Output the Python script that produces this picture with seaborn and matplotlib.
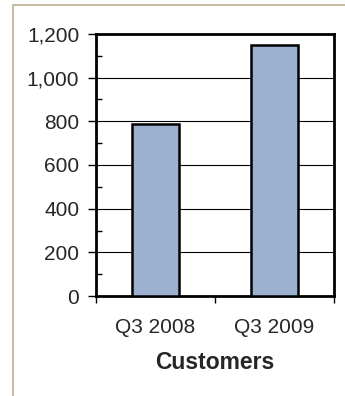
import matplotlib
matplotlib.use("Agg")
import matplotlib.pyplot as plt
from matplotlib.patches import Rectangle
from matplotlib.ticker import MultipleLocator, FuncFormatter
import seaborn as sns
import pandas as pd

periods = ["Q3 2008", "Q3 2009"]
customers = [790, 1150]
y_ticks = [0, 200, 400, 600, 800, 1000, 1200]

sns.set_style("white")
plt.rcParams["font.family"] = ["Liberation Sans", "DejaVu Sans"]

df = pd.DataFrame({"period": periods, "customers": customers})

fig = plt.figure(figsize=(3.45, 3.96), dpi=100)
ax = fig.add_axes([96 / 345, 1 - 296 / 396, 238 / 345, 262 / 396])

sns.barplot(data=df, x="period", y="customers", color="#9CB1D0",
            saturation=1, width=0.40, edgecolor="black", linewidth=1.8,
            ax=ax, zorder=3)

ax.set_ylim(0, 1200)
ax.set_xlim(-0.5, 1.5)
ax.set_yticks(y_ticks)
ax.yaxis.set_major_formatter(FuncFormatter(lambda v, p: f"{int(v):,}"))
ax.yaxis.set_minor_locator(MultipleLocator(100))
ax.grid(axis="y", which="major", color="black", linewidth=0.8, zorder=0)
ax.set_axisbelow(True)

ax.tick_params(axis="y", which="major", direction="out", length=6, width=1,
               color="black", labelsize=15, pad=6, left=True)
ax.tick_params(axis="y", which="minor", direction="in", length=4, width=1,
               color="black", left=True)
ax.set_xticks([0, 1])
ax.set_xticklabels(periods)
ax.tick_params(axis="x", which="major", length=0, labelsize=15, pad=16)
ax.set_xticks([-0.5, 0.5, 1.5], minor=True)
ax.tick_params(axis="x", which="minor", direction="out", length=5, width=1,
               color="black", bottom=True)

for s in ax.spines.values():
    s.set_visible(True)
    s.set_color("black")
    s.set_linewidth(2)

ax.set_ylabel("")
ax.set_xlabel("Customers", fontsize=16.5, fontweight="bold", labelpad=10)

# outer chart frame
fig.patches.append(Rectangle((13 / 345, -0.1), 1.2, 1 - 5 / 396 + 0.1,
                             transform=fig.transFigure, fill=False,
                             edgecolor="#BCAE94", linewidth=1.2))

fig.savefig("out.png", dpi=100)
